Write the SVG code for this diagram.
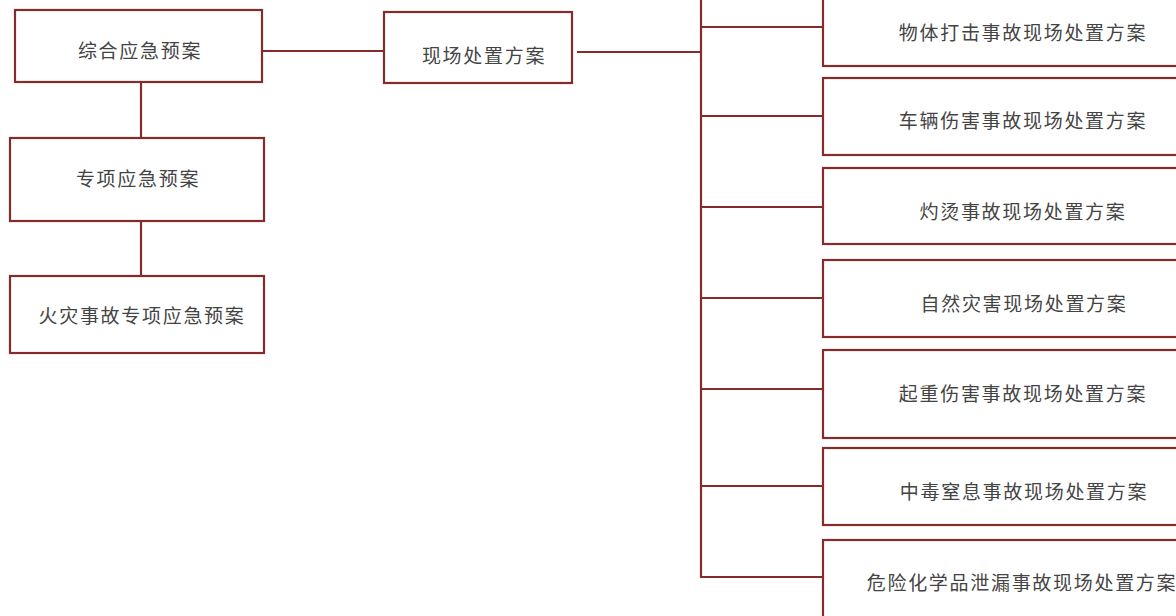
<svg xmlns="http://www.w3.org/2000/svg" width="1176" height="616" viewBox="0 0 1176 616">
<style>
.box{fill:#ffffff;stroke:#862a2a;stroke-width:2.2}
.ln{fill:none;stroke:#862a2a;stroke-width:2.2}
.t{font-family:"Noto Sans CJK SC","Noto Sans CJK TC",sans-serif;font-size:19px;fill:#444444;text-anchor:middle;letter-spacing:1.7px}
</style>
<rect width="1176" height="616" fill="#ffffff"/>
<g id="connectors">
<line class="ln" x1="141" y1="83" x2="141" y2="138"/>
<line class="ln" x1="141" y1="221" x2="141" y2="276"/>
<line class="ln" x1="262" y1="51" x2="384" y2="51"/>
<line class="ln" x1="577" y1="52" x2="701" y2="52"/>
<line class="ln" x1="701" y1="-2" x2="701" y2="577"/>
<line class="ln" x1="701" y1="27" x2="823" y2="27"/>
<line class="ln" x1="701" y1="116" x2="823" y2="116"/>
<line class="ln" x1="701" y1="207" x2="823" y2="207"/>
<line class="ln" x1="701" y1="298" x2="823" y2="298"/>
<line class="ln" x1="701" y1="389" x2="823" y2="389"/>
<line class="ln" x1="701" y1="486" x2="823" y2="486"/>
<line class="ln" x1="700" y1="577" x2="823" y2="577"/>
</g>
<g id="n1"><rect class="box" x="15" y="10" width="247" height="72"/><text class="t" x="140" y="58">综合应急预案</text></g>
<g id="n2"><rect class="box" x="10" y="138" width="254" height="83"/><text class="t" x="138" y="186">专项应急预案</text></g>
<g id="n3"><rect class="box" x="10" y="276" width="254" height="77"/><text class="t" x="142" y="323">火灾事故专项应急预案</text></g>
<g id="n4"><rect class="box" x="384" y="12" width="188" height="71"/><text class="t" x="484" y="63">现场处置方案</text></g>
<g id="r1"><rect class="box" x="823" y="-12" width="360" height="78"/><text class="t" x="1023" y="40">物体打击事故现场处置方案</text></g>
<g id="r2"><rect class="box" x="823" y="78" width="360" height="77"/><text class="t" x="1023" y="128">车辆伤害事故现场处置方案</text></g>
<g id="r3"><rect class="box" x="823" y="168" width="360" height="76"/><text class="t" x="1023" y="219">灼烫事故现场处置方案</text></g>
<g id="r4"><rect class="box" x="823" y="260" width="360" height="77"/><text class="t" x="1024" y="311">自然灾害现场处置方案</text></g>
<g id="r5"><rect class="box" x="823" y="350" width="360" height="88"/><text class="t" x="1023" y="401">起重伤害事故现场处置方案</text></g>
<g id="r6"><rect class="box" x="823" y="448" width="360" height="77"/><text class="t" x="1024" y="499">中毒窒息事故现场处置方案</text></g>
<g id="r7"><rect class="box" x="823" y="540" width="360" height="90"/><text class="t" x="1022" y="590">危险化学品泄漏事故现场处置方案</text></g>
</svg>
